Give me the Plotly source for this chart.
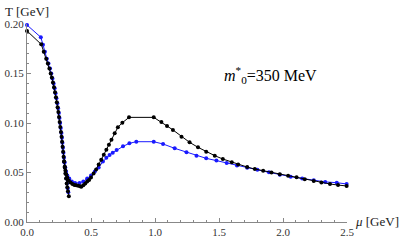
import plotly.graph_objects as go

# black series (main branch)
black_mu = [0, .111, .131, .15, .163, .175, .185, .194, .203, .211, .219, .226, .233, .239, .245, .250,
            .255, .260, .265, .270, .274, .278, .282, .286, .290, .295, .300, .307, .315, .325, .340,
            .355, .370, .385, .400, .415, .424, .440, .455, .470, .485, .50, .52, .54, .56, .58, .60,
            .62, .64, .66, .685, .71, .745, .797, .99, 1.05, 1.094, 1.14, 1.207, 1.27, 1.336, 1.40,
            1.467, 1.53, 1.60, 1.65, 1.72, 1.78, 1.845, 1.91, 1.975, 2.04, 2.106, 2.17, 2.24, 2.30,
            2.367, 2.43, 2.497]
black_T = [.193, .1795, .172, .165, .160, .155, .150, .146, .141, .136, .131, .126, .121, .116, .111, .106,
           .101, .096, .091, .086, .081, .076, .071, .066, .061, .056, .052, .048, .045, .042, .040,
           .0385, .0375, .037, .0365, .036, .0357, .037, .039, .041, .0425, .045, .049, .053, .058, .063, .068,
           .073, .078, .083, .0896, .0957, .1003, .1057, .1057, .101, .097, .093, .0862, .0805, .0754, .071,
           .067, .0636, .0604, .058, .0555, .0535, .0518, .050, .0482, .0467, .0452, .0433, .0414, .040,
           .0384, .0373, .0364]
# black series (lower branch)
black_dip_mu = [.290, .295, .300, .305, .310, .315, .320, .327]
black_dip_T = [.061, .055, .049, .044, .039, .035, .031, .026]

# blue series (main branch)
blue_mu = [0, .108, .125, .14, .155, .168, .180, .190, .199, .208, .216, .223, .230, .237, .243, .249,
           .254, .259, .264, .269, .273, .277, .281, .285, .289, .293, .298, .305, .315, .330, .350,
           .375, .41, .44, .47, .50, .53, .56, .593, .62, .645, .67, .70, .75, .80, .854, .99, 1.063,
           1.154, 1.246, 1.324, 1.40, 1.48, 1.56, 1.64, 1.72, 1.80, 1.89, 1.975, 2.06, 2.15, 2.24,
           2.33, 2.42, 2.497]
blue_T = [.199, .1866, .179, .172, .165, .160, .155, .150, .145, .140, .135, .130, .125, .120, .115, .110,
          .105, .100, .095, .090, .085, .080, .075, .070, .065, .060, .055, .051, .047, .044, .041,
          .0395, .0395, .041, .044, .047, .051, .055, .061, .065, .0677, .070, .0727, .0764, .0795, .0811, .0811, .0788,
          .0744, .0704, .067, .0643, .062, .0595, .057, .0548, .0527, .0502, .0478, .0458, .0440, .0422,
          .0405, .0397, .0384]
# blue series (lower branch)
blue_dip_mu = [.293, .298, .303, .308, .313, .318, .323]
blue_dip_T = [.060, .055, .049, .044, .039, .034, .030]

x_ticks = [0.0, 0.5, 1.0, 1.5, 2.0, 2.5]
x_ticklabels = ["0.0", "0.5", "1.0", "1.5", "2.0", "2.5"]
y_ticks = [0.00, 0.05, 0.10, 0.15, 0.20]
y_ticklabels = ["0.00", "0.05", "0.10", "0.15", "0.20"]

BLUE = "#1a1aff"
SERIF = "Liberation Serif, Times New Roman, serif"
fig = go.Figure()
for mu, T, col in [(blue_mu, blue_T, BLUE), (blue_dip_mu, blue_dip_T, BLUE),
                   (black_mu, black_T, "black"), (black_dip_mu, black_dip_T, "black")]:
    fig.add_trace(go.Scatter(x=mu, y=T, mode="lines+markers",
                             line=dict(color=col, width=1),
                             marker=dict(color=col, size=4),
                             showlegend=False, cliponaxis=False))

tickfont = dict(family=SERIF, size=11, color="#333")
fig.update_layout(
    width=407, height=243,
    margin=dict(l=27, r=60, t=24, b=21),
    paper_bgcolor="white", plot_bgcolor="white",
    font=tickfont,
    xaxis=dict(range=[0, 2.5], tickvals=x_ticks, ticktext=x_ticklabels, automargin=False,
               tickfont=tickfont,
               showgrid=False, zeroline=False, showline=True, linecolor="#888", linewidth=1,
               ticks="inside", ticklen=4, tickcolor="#888",
               minor=dict(dtick=0.1, ticks="inside", ticklen=2, tickcolor="#888", showgrid=False)),
    yaxis=dict(range=[0, 0.2], tickvals=y_ticks, ticktext=y_ticklabels, automargin=False,
               tickfont=tickfont,
               showgrid=False, zeroline=False, showline=True, linecolor="#888", linewidth=1,
               ticks="inside", ticklen=4, tickcolor="#888",
               minor=dict(dtick=0.01, ticks="inside", ticklen=2, tickcolor="#888", showgrid=False)),
    annotations=[
        dict(text="T [GeV]", xref="paper", yref="paper", x=0, y=1, xshift=-24, yshift=3,
             xanchor="left", yanchor="bottom", showarrow=False,
             font=dict(family=SERIF, size=13, color="#222")),
        dict(text="<i>μ</i> [GeV]", xref="paper", yref="paper", x=1, y=0, xshift=6, yshift=1,
             xanchor="left", yanchor="middle", showarrow=False,
             font=dict(family=SERIF, size=13, color="#222")),
        dict(text="<i>m</i><sup>*</sup><sub>0</sub>=350 MeV", x=1.90, y=0.148,
             xanchor="center", yanchor="middle", showarrow=False,
             font=dict(family=SERIF, size=16, color="black")),
    ],
)
fig.write_html("out.html", config={"displayModeBar": False},
               post_script="document.body.style.margin='0';document.body.style.overflow='hidden';")
